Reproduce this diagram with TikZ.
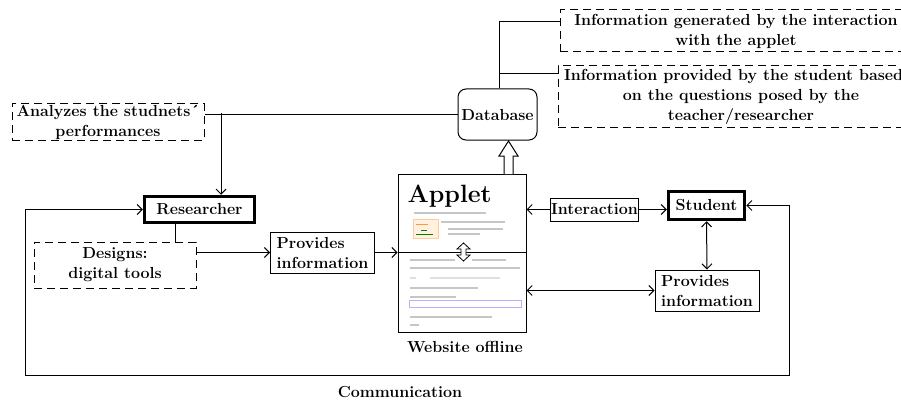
\documentclass[tikz,border=0pt]{standalone}
\usepackage{fontspec}
\usetikzlibrary{arrows.meta}
\tikzset{
  box/.style={draw, line width=1pt, inner sep=1pt, font=\fontsize{16}{20}\selectfont\bfseries},
  dbox/.style={box, dash pattern=on 8pt off 5pt},
  tbox/.style={box, line width=3.5pt},
  lbl/.style={font=\fontsize{16}{20}\selectfont\bfseries},
  scr/.style={gray!45, line width=1.3pt},
}
\begin{document}
\begin{tikzpicture}[x=1pt, y=-1pt, line width=1pt, >={Straight Barb[length=5pt,width=10pt]}]
          \clip (0,0) rectangle (901,401);
          % boxes
          \node[dbox, minimum width=192, minimum height=36, align=center] (ana) at (108,122) {Analyzes the studnets´\\performances};
          \node[tbox, minimum width=110, minimum height=26] (res) at (199.5,209.5) {Researcher};
          \node[dbox, minimum width=162, minimum height=46, align=center] (des) at (115,265) {Designs:\\digital tools};
          \node[box, minimum width=104, minimum height=41, align=left] (prov1) at (322.5,252.5) {Provides\\information};
          \node[box, minimum width=128, minimum height=158] (app) at (462,253) {};
          \node[lbl] (web) at (465,347) {Website offline};
          \node[box, rounded corners=8pt, minimum width=79, minimum height=51] (db) at (497.5,114.5) {Database};
          \node[dbox, minimum width=352, minimum height=42, align=center] (info1) at (736,31) {Information generated by\ the interaction\\with the applet};
          \node[dbox, minimum width=366, minimum height=61, align=center] (info2) at (741,96.5) {Information provided by the student based a\\on\ the questions posed by the\\teacher/researcher};
          \node[box, minimum width=87, minimum height=23] (inter) at (594.5,209.5) {Interaction};
          \node[tbox, minimum width=76, minimum height=28] (stu) at (706.5,205.5) {Student};
          \node[box, minimum width=104, minimum height=41, align=left] (prov2) at (707,290.5) {Provides\\information};
          \node[lbl] (comm) at (400,392) {Communication};
          % applet page
          \node[font=\fontsize{25}{25}\selectfont\bfseries, anchor=west, inner sep=0pt] (aptitle) at (407,196) {Applet};
          \draw[scr] (414,213) -- (486,213);
          \draw[orange!40, fill=orange!12, line width=0.6pt] (413,219) rectangle (438,238);
          \draw[orange!80, line width=1pt] (416,224) -- (428,224);
          \draw[green!50!black, line width=0.8pt] (421,230) -- (427,230) (416,234) -- (433,234);
          \draw[scr] (441,222) -- (505,222) (448,229) -- (503,229) (448,234) -- (480,234);
          \draw[] (app.west |- 0,252) -- (app.east |- 0,252);
          \draw[scr] (410,260) -- (455,260) (472,260) -- (506,260);
          \draw[scr] (410,268) -- (520,268);
          \draw[scr, gray!25] (410,278) -- (416,278) (430,278) -- (500,278);
          \draw[scr] (410,288) -- (478,288);
          \draw[scr] (410,297) -- (456,297);
          \draw[blue!30, line width=0.8pt] (409,300) rectangle (521,307);
          \draw[scr] (410,317) -- (492,317);
          \draw[scr] (410,325) -- (419,325);
          \draw[line width=0.8pt, fill=white] (463.5,243) -- (470,249) -- (466,249) -- (466,255) -- (470,255) -- (463.5,261) -- (457,255) -- (461,255) -- (461,249) -- (457,249) -- cycle;
          % connectors
          \draw[] (db.west) -- (db.west -| ana.east);
          \coordinate (br) at (221,113);
          \draw[->] (br) -- (br |- res.north);
          \draw[] (res.south -| 175,0) -- (des.north -| 175,0);
          \draw[->] (prov1.west -| des.east) -- (prov1.west);
          \draw[->] (prov1.east) -- (prov1.east -| app.west);
          \draw[fill=white] (504,174) -- (504,156) -- (499,156) -- (508.5,141) -- (518,156) -- (513,156) -- (513,174);
          \coordinate (dt) at (499,22);
          \draw[] (db.north -| dt) -- (dt) -- (dt -| info1.west);
          \coordinate (dm) at (499,74);
          \draw[] (dm) -- (dm -| info2.west);
          \draw[->] (inter.west) -- (inter.west -| app.east);
          \draw[->] (inter.east) -- (inter.east -| stu.west);
          \draw[<->] (stu.south) -- (prov2.north);
          \draw[<->] (prov2.west -| app.east) -- (prov2.west);
          \coordinate (cl) at (25,375);
          \coordinate (cr) at (789,375);
          \draw[<->] (res.west) -| (cl) -- (cr) |- (stu.east);
        \end{tikzpicture}
\end{document}
